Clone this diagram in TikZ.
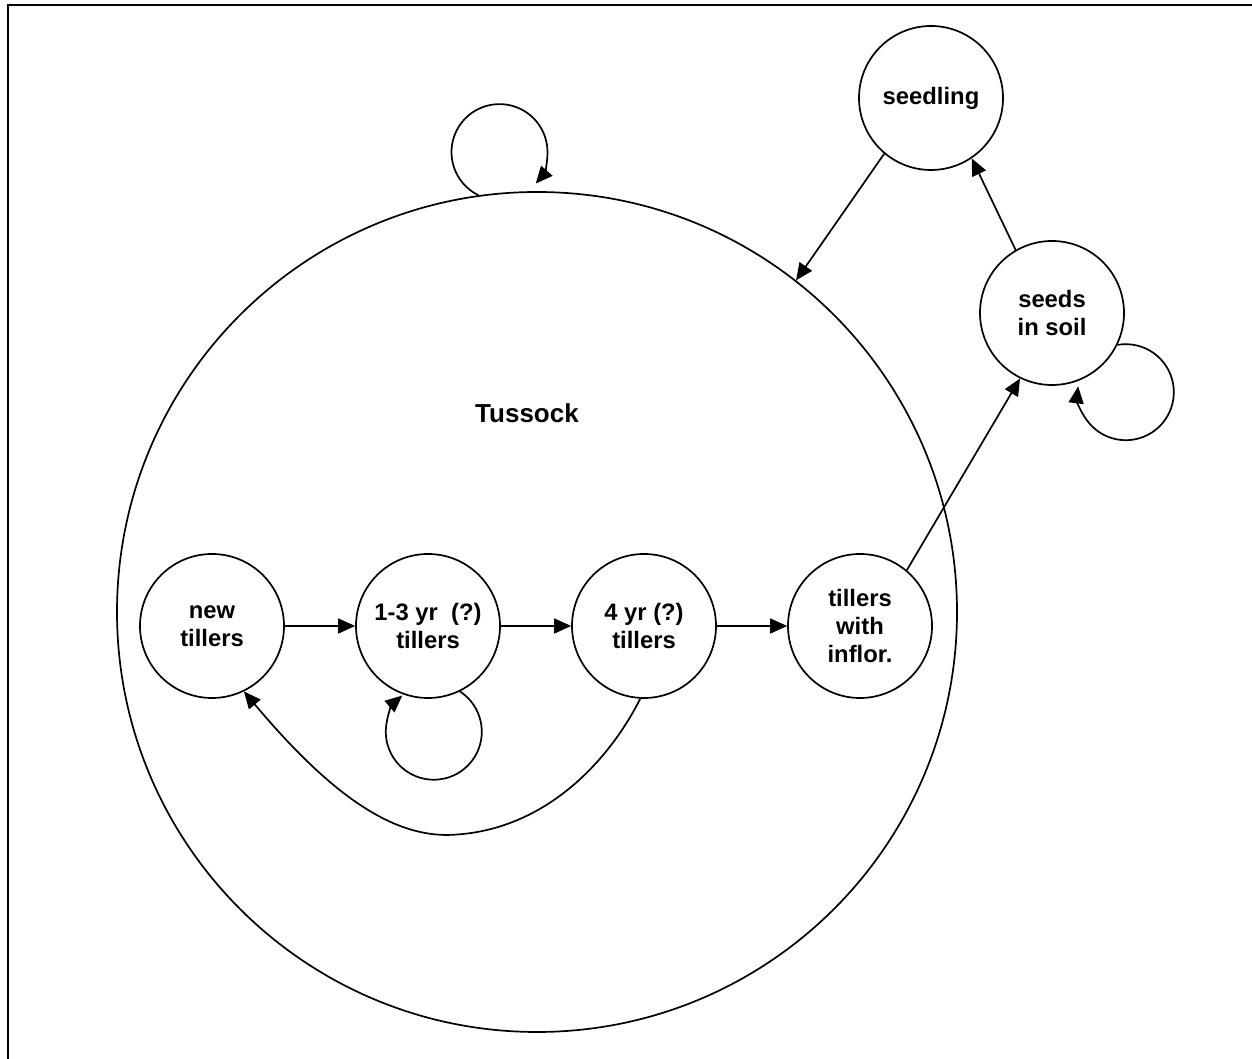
\documentclass[tikz,border=0pt]{standalone}
\usepackage{fontspec}
\setmainfont{Liberation Sans}
\usetikzlibrary{arrows.meta}
\begin{document}
\begin{tikzpicture}[x=1pt,y=1pt,
  lw/.style={line width=1.7pt},
  stage/.style={circle,draw,lw,minimum size=144pt,inner sep=0pt,align=center,
    font=\bfseries\fontsize{23.8}{28}\selectfont},
  arr/.style={lw,-{Triangle[length=17pt,width=15pt]}},
  lbl/.style={font=\bfseries\fontsize{26}{30}\selectfont}]
\useasboundingbox (0,0) rectangle (1252,1059);
% frame (top and left edges)
\coordinate (fa) at (1252,1054);
\coordinate (fb) at (8,1054);
\coordinate (fc) at (8,0);
\draw[line width=2.2pt] (fa) -- (fb) -- (fc);
% tussock
\node[circle,draw,lw,minimum size=840pt,inner sep=0pt] (tus) at (537,447) {};
\node[lbl] (tlabel) at (527,646) {Tussock};
% stages
\node[stage] (new) at (212,433) {new\\tillers};
\node[stage] (t13) at (428,433) {1-3 yr\ \ (?)\\tillers};
\node[stage] (t4) at (644,433) {4 yr (?)\\tillers};
\node[stage] (infl) at (860,433) {tillers\\with\\inflor.};
\node[stage] (seedling) at (931,961) {seedling};
\node[stage] (seeds) at (1052,746) {seeds\\in soil};
% straight connectors
\draw[arr] (new) -- (t13);
\draw[arr] (t13) -- (t4);
\draw[arr] (t4) -- (infl);
\draw[arr] (infl.50) -- (seeds.244);
\draw[arr] (seeds.120) -- (seedling.304);
\draw[arr] (seedling.230) -- (tus.52);
% self loops
\draw[arr] (tus.98.5) arc[start angle=244,end angle=-41,radius=48];
\draw[arr] (t13.-64) arc[start angle=57,end angle=-229,radius=48];
\draw[arr] (seeds.-26) arc[start angle=100,end angle=-187,radius=48];
% return curve
\draw[arr] (t4.267) .. controls (610,300) and (545,226) .. (447,224)
  .. controls (390,224) and (330,265) .. (new.296);
\end{tikzpicture}
\end{document}
